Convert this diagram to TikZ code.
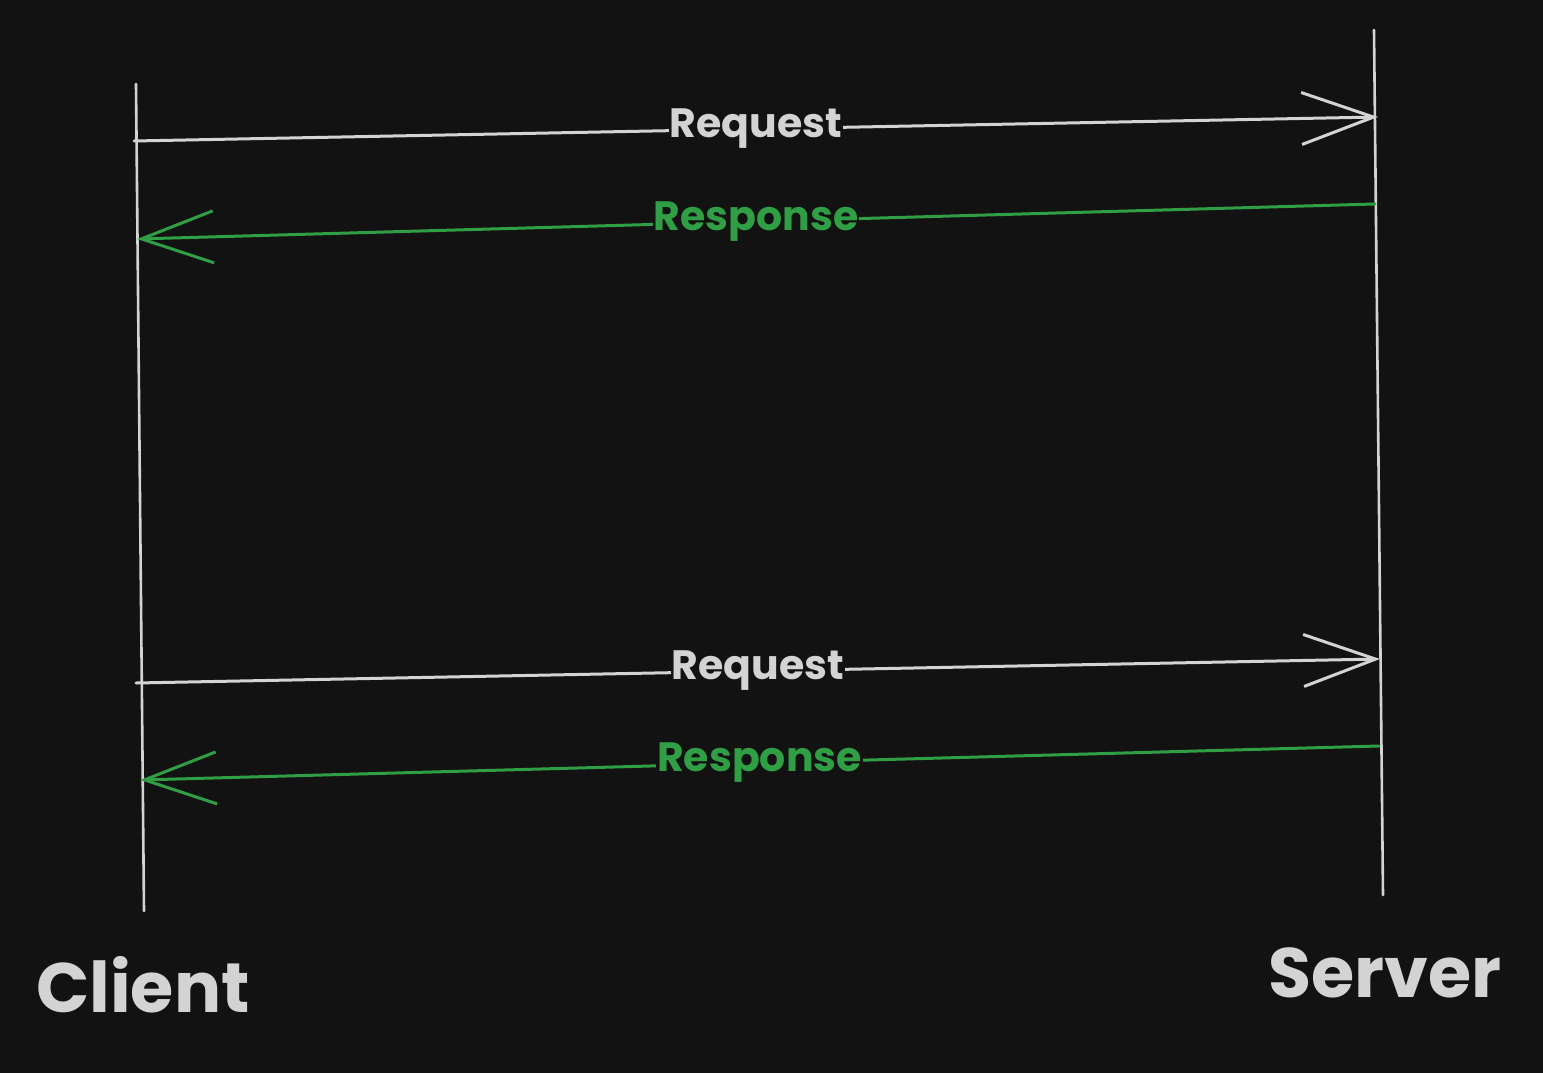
\documentclass[tikz,border=0pt]{standalone}
\usepackage{fontspec}
\setmainfont{Poppins}
\usetikzlibrary{arrows.meta}
\definecolor{bg}{HTML}{121212}
\definecolor{ink}{HTML}{D3D3D3}
\definecolor{grn}{HTML}{2F9E44}
\begin{document}
\begin{tikzpicture}[x=1pt,y=-1pt,
  life/.style={draw=ink,line width=2.6pt,line cap=round},
  msg/.style={line width=3pt,line cap=round,-{Straight Barb[length=72pt,width=52pt,line width=3pt]}},
  req/.style={msg,draw=ink},
  resp/.style={msg,draw=grn},
  lbl/.style={fill=bg,inner sep=1pt,font=\fontsize{41}{46}\selectfont\bfseries},
  title/.style={font=\fontsize{70}{80}\selectfont\bfseries,text=ink}]
\fill[bg] (0,0) rectangle (1543,1073);
\useasboundingbox (0,0) rectangle (1543,1073);
\coordinate (c1) at (136,84);
\coordinate (c2) at (144,911);
\coordinate (s1) at (1374,30);
\coordinate (s2) at (1383,895);
\draw[life] (c1) -- (c2);
\draw[life] (s1) -- (s2);
\coordinate (q1a) at (134,141);
\coordinate (q1b) at (1378,117);
\coordinate (r1a) at (1375,204);
\coordinate (r1b) at (137,239);
\coordinate (q2a) at (136,683);
\coordinate (q2b) at (1380,659);
\coordinate (r2a) at (1379,746);
\coordinate (r2b) at (140,780);
\draw[req] (q1a) -- node[lbl,text=ink] (L1) {Request} (q1b);
\draw[resp] (r1a) -- node[lbl,text=grn,pos=0.5] (L2) {Response} (r1b);
\draw[req] (q2a) -- node[lbl,text=ink] (L3) {Request} (q2b);
\draw[resp] (r2a) -- node[lbl,text=grn,pos=0.5] (L4) {Response} (r2b);
\node[title] (client) at (143,985) {Client};
\node[title] (server) at (1385,973) {Server};
\end{tikzpicture}
\end{document}
